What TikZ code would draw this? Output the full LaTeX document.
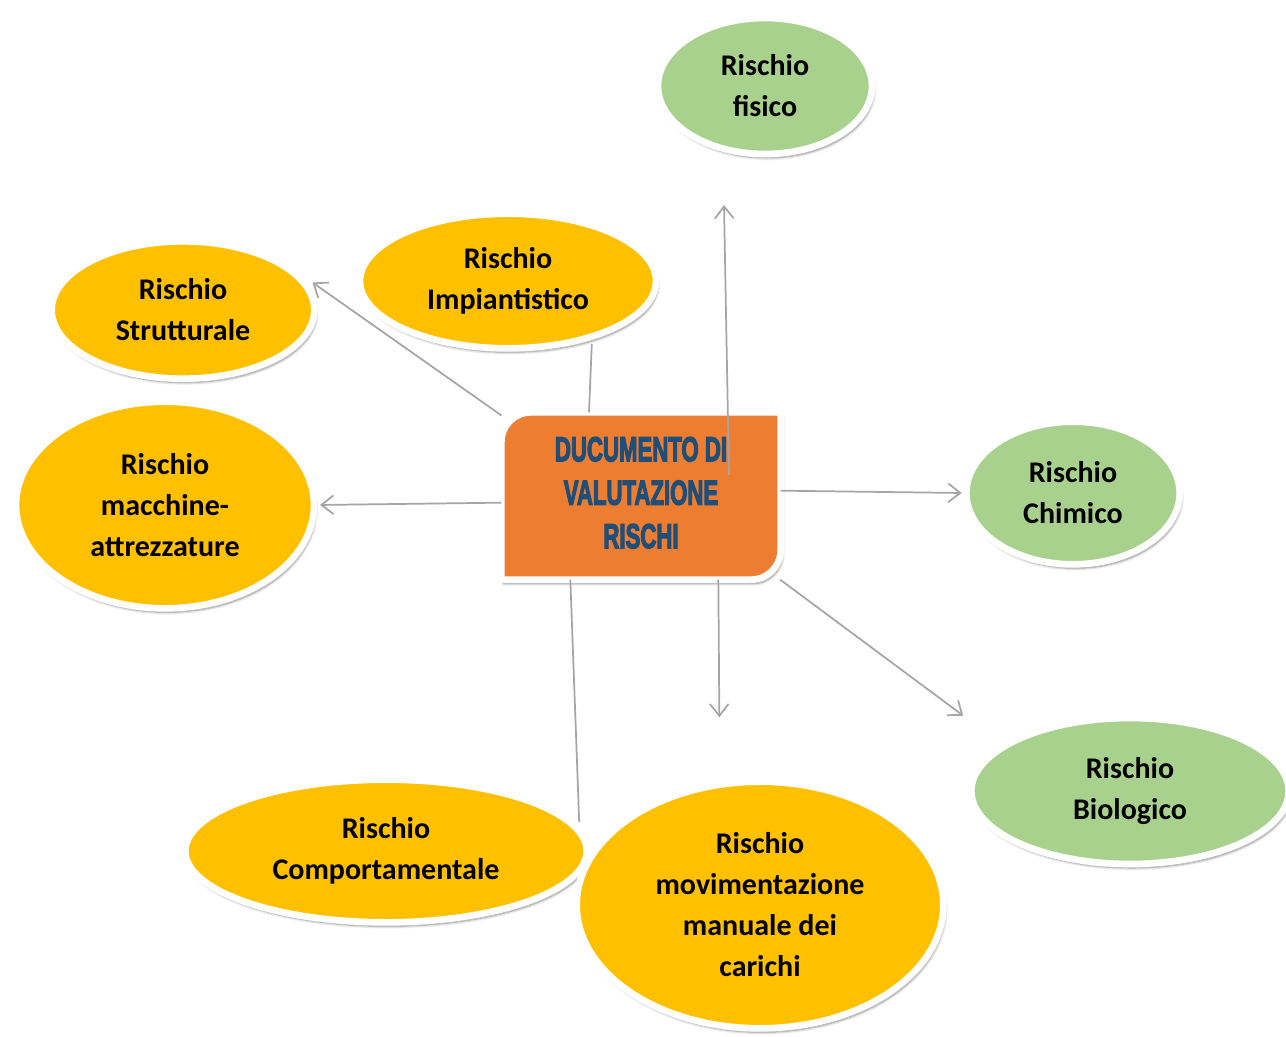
\documentclass[tikz,border=0pt]{standalone}
\usepackage{fontspec}
\setmainfont{Carlito}
\newfontfamily\titlefont{Liberation Sans}[BoldFeatures={FakeBold=4}]
\usetikzlibrary{shapes.geometric,arrows.meta,calc,shadows.blur}
\definecolor{riskyellow}{HTML}{FFC000}
\definecolor{riskgreen}{HTML}{A9D18E}
\definecolor{docorange}{HTML}{ED7D31}
\definecolor{docblue}{HTML}{1F4E79}
\definecolor{linkgray}{HTML}{A5A5A5}
\begin{document}
\begin{tikzpicture}[x=0.75pt,y=-0.75pt,
  softshadow/.style={blur shadow={shadow xshift=1.5pt,shadow yshift=-3pt,shadow opacity=45,shadow blur steps=6}},
  risk/.style={ellipse,draw=white,line width=5pt,inner sep=0pt,align=center,
    font=\bfseries\fontsize{22.5}{30.75}\selectfont,softshadow},
  yrisk/.style={risk,fill=riskyellow},
  grisk/.style={risk,fill=riskgreen},
  link/.style={linkgray,line width=1.3pt},
  linkarrow/.style={link,-{Straight Barb[length=9pt,width=14pt]}}]
   \useasboundingbox (0,0) rectangle (1286,1036);
   % Document
   \node[minimum width=209pt,minimum height=125pt,inner sep=0pt] (box) at (641,496) {};
   \path[fill=docorange,draw=white,line width=5pt,softshadow]
     (box.south west) -- ([yshift=-22pt]box.north west)
     arc[start angle=180,end angle=90,radius=22pt] -- (box.north east)
     -- ([yshift=22pt]box.south east)
     arc[start angle=0,end angle=-90,radius=22pt] -- cycle;
   \node[text=docblue,inner sep=0pt,font=\titlefont\bfseries\fontsize{26}{32.6}\selectfont] (boxtext) at (box.center)
     {\scalebox{0.64}[1]{\begin{tabular}{@{}c@{}}DUCUMENTO DI\\VALUTAZIONE\\RISCHI\end{tabular}}};
   % Risks
   \node[grisk,minimum width=160.5pt,minimum height=102pt] (fisico) at (765,86) {Rischio\\fisico};
   \node[yrisk,minimum width=222pt,minimum height=101pt] (impiant) at (508,281) {Rischio\\Impiantistico};
   \node[yrisk,minimum width=197pt,minimum height=103pt] (strutt) at (183,310) {Rischio\\Strutturale};
   \node[yrisk,minimum width=223.5pt,minimum height=155pt] (macch) at (165,505) {Rischio\\macchine-\\attrezzature};
   \node[grisk,minimum width=160pt,minimum height=107pt] (chimico) at (1073,493) {Rischio\\Chimico};
   \node[grisk,minimum width=238pt,minimum height=109.5pt] (bio) at (1130,791) {Rischio\\Biologico};
   \node[yrisk,minimum width=301pt,minimum height=107pt] (comport) at (386,851) {Rischio\\Comportamentale};
   \node[yrisk,minimum width=275pt,minimum height=185pt] (movim) at (760,905) {Rischio\\movimentazione\\manuale dei\\carichi};
   \coordinate (fisicoEnd) at (724,205);
   % Links
   \draw[linkarrow,shorten >=15pt] (box.150) -- (strutt.19);
   \draw[link,shorten >=3pt] ([xshift=-39pt]box.north) -- (impiant.-35);
   \draw[linkarrow] ($(box.center)+(88,-21)$) -- (fisicoEnd);
   \draw[linkarrow,shorten >=2pt] ([yshift=-5pt]box.west) -- (macch.east);
   \draw[linkarrow,shorten >=1pt] ([yshift=4pt]box.east) -- (chimico.west);
   \draw[linkarrow,shorten >=36pt] (box.-31) -- (bio.160);
   \draw[linkarrow,shorten >=48pt] ([xshift=58pt]box.south) -- (movim.108);
   \draw[link,shorten >=4pt] ([xshift=-53pt]box.south) -- (comport.7);
\end{tikzpicture}
\end{document}
